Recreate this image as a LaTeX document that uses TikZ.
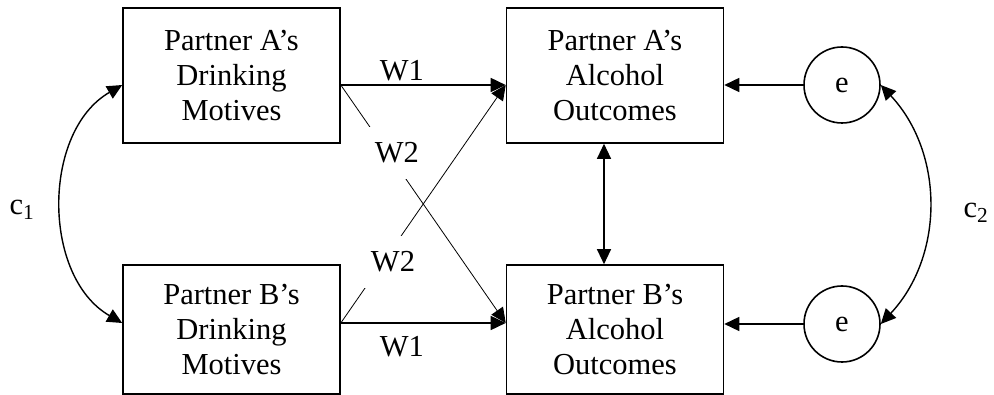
\documentclass[tikz,border=0pt]{standalone}
\usepackage{fontspec}
\setmainfont{Liberation Serif}
\usetikzlibrary{arrows.meta}

\tikzset{
  varbox/.style={draw, line width=1.6pt, minimum width=217pt, align=center, inner sep=0pt},
  errnode/.style={draw, circle, line width=1.6pt, minimum size=76pt, inner sep=0pt},
  effarrow/.style={->, line width=1.6pt},
  crossarrow/.style={->, line width=0.8pt},
  covarrow/.style={<->, line width=1.4pt},
  wlabel/.style={fill=white, inner xsep=12pt, inner ysep=16pt}
}

\begin{document}
\begin{tikzpicture}[x=1pt, y=1pt, >={Triangle[length=15pt,width=14pt]},
    font=\fontsize{30.5}{35}\selectfont]
    \useasboundingbox (0,0) rectangle (994,-395);
    % variables
    \node[varbox, minimum height=135pt] (dmA) at (231.5,-75.5) {Partner A’s\\Drinking\\Motives};
    \node[varbox, minimum height=129pt] (dmB) at (231.5,-329.5) {Partner B’s\\Drinking\\Motives};
    \node[varbox, minimum height=135pt] (aoA) at (615,-75.5) {Partner A’s\\Alcohol\\Outcomes};
    \node[varbox, minimum height=129pt] (aoB) at (615,-329.5) {Partner B’s\\Alcohol\\Outcomes};
    \node[errnode] (eA) at (842,-85) {e};
    \node[errnode] (eB) at (842,-324) {e};
    \coordinate (rowA) at (0,-85);
    \coordinate (rowB) at (0,-323);
    % paths
    \draw[effarrow] (dmA.east |- rowA) -- node[above, pos=0.37] {W1} (aoA.west |- rowA);
    \draw[effarrow] (dmB.east |- rowB) -- node[below, pos=0.37, yshift=-9pt] {W1} (aoB.west |- rowB);
    \draw[crossarrow] (dmA.east |- rowA) -- node[wlabel, pos=0.286, xshift=9pt] {W2} (aoB.west |- rowB);
    \draw[crossarrow] (dmB.east |- rowB) -- node[wlabel, pos=0.256, xshift=10pt] {W2} (aoA.west |- rowA);
    \draw[covarrow, line width=1.2pt] ([xshift=-11pt]aoA.south) -- ([xshift=-11pt]aoB.north);
    \draw[effarrow] (eA.west) -- (aoA.east |- eA.west);
    \draw[effarrow] (eB.west) -- (aoB.east |- eB.west);
    % covariances
    \draw[covarrow] (dmA.west |- rowA) to[bend right=60] (dmB.west |- rowB);
    \draw[covarrow] (eA.east) to[bend left=43] (eB.east);
    \node (cA) at (22,-210) {c\textsubscript{1}};
    \node (cB) at (976,-213) {c\textsubscript{2}};
\end{tikzpicture}
\end{document}
